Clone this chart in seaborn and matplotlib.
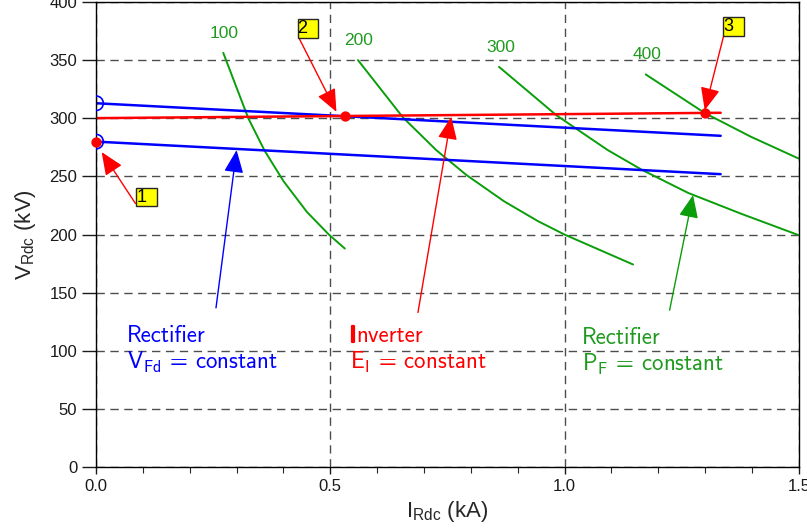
import matplotlib
matplotlib.use("Agg")
import numpy as np
import pandas as pd
import seaborn as sns
import matplotlib.pyplot as plt
import matplotlib.patheffects as pe
from matplotlib.ticker import MultipleLocator

# ---- data -------------------------------------------------------------
# rectifier characteristics, V_Fd = constant (kA, kV)
I_fd = [0.0, 1.333]
V_fd_high = [313, 285]
V_fd_low = [280, 252]

# inverter characteristic, E_I = constant
I_inv = [0.0, 1.333]
V_inv = [300.2, 304.8]

# rectifier constant-power curves (MW)
P_labels = ["100", "200", "300", "400"]
I_p100 = [0.2715, 0.325, 0.360, 0.400, 0.450, 0.497, 0.531]
V_p100 = [356.4, 300.0, 272.0, 246.0, 219.5, 200.0, 188.0]
I_p200 = [0.559, 0.655, 0.726, 0.790, 0.871, 0.943, 1.000, 1.146]
V_p200 = [350.1, 300.8, 272.7, 251.4, 228.6, 211.6, 200.0, 174.3]
I_p300 = [0.860, 0.982, 1.092, 1.165, 1.264, 1.377, 1.499]
V_p300 = [344.3, 302.8, 272.7, 255.7, 235.8, 217.9, 199.6]
I_p400 = [1.173, 1.299, 1.398, 1.499]
V_p400 = [337.8, 304.6, 284.1, 265.5]
P_label_I = [0.273, 0.561, 0.864, 1.175]
P_label_V = [373, 367, 361, 355]

# operating points and their numbered call-outs
op_I = [0.0, 0.531, 1.299]
op_V = [280, 302.0, 304.5]
op_names = ["1", "2", "3"]
op_tip_I = [0.012, 0.513, 1.299]
op_tip_V = [271, 305.6, 307]
op_box_I = [0.087, 0.432, 1.340]
op_box_V = [225, 370, 372]

# open markers on the voltage axis
axis_pt_I = [0.0, 0.0]
axis_pt_V = [313, 280]

x_ticks = [0.0, 0.5, 1.0, 1.5]
y_ticks = list(range(0, 401, 50))

# ---- style ------------------------------------------------------------
sns.set_style("white")
plt.rcParams["font.family"] = ["Liberation Sans Narrow", "Liberation Sans", "DejaVu Sans"]
plt.rcParams["mathtext.fontset"] = "custom"
plt.rcParams["mathtext.rm"] = "Liberation Sans"
plt.rcParams["mathtext.it"] = "Liberation Sans"

BLUE = "#0000ff"
RED = "#ff0000"
GREEN = "#0a9e0a"
GREEN_TXT = "#1f9a1f"

fig, ax = plt.subplots(figsize=(8.07, 5.29), dpi=100)
fig.subplots_adjust(left=0.119, right=0.990, bottom=0.117, top=0.996)

ax.set_xlim(0, 1.5)
ax.set_ylim(0, 400)
ax.set_xticks(x_ticks)
ax.set_xticklabels([f"{v:.1f}" for v in x_ticks])
ax.set_yticks(y_ticks)
ax.xaxis.set_minor_locator(MultipleLocator(0.1))
ax.grid(True, which="major", linestyle=(0, (6, 4)), color="0.3", linewidth=1.0)
ax.set_axisbelow(True)
for sp in ax.spines.values():
    sp.set_color("black")
    sp.set_linewidth(1.0)
ax.tick_params(axis="y", direction="out", length=10, width=1, left=True,
               labelsize=12, colors="0.1")
ax.tick_params(axis="x", which="major", direction="out", length=5, width=1,
               bottom=True, labelsize=12, colors="0.1")
ax.tick_params(axis="x", which="minor", direction="out", length=4, width=0.8,
               bottom=True)

ax.set_xlabel(r"I$_{\mathrm{Rdc}}$ (kA)", fontsize=16, labelpad=4)
ax.set_ylabel(r"V$_{\mathrm{Rdc}}$ (kV)", fontsize=16, labelpad=8)

# ---- curves -----------------------------------------------------------
for I, V in [(I_p100, V_p100), (I_p200, V_p200), (I_p300, V_p300), (I_p400, V_p400)]:
    sns.lineplot(x=I, y=V, ax=ax, color=GREEN, linewidth=1.4, sort=False,
                 estimator=None)
for lab, xi, yi in zip(P_labels, P_label_I, P_label_V):
    ax.text(xi, yi, lab, color=GREEN_TXT, fontsize=12.5, ha="center", va="center",
            family=["Liberation Sans", "DejaVu Sans"])

sns.lineplot(x=I_fd, y=V_fd_high, ax=ax, color=BLUE, linewidth=1.8, estimator=None)
sns.lineplot(x=I_fd, y=V_fd_low, ax=ax, color=BLUE, linewidth=1.8, estimator=None)
sns.lineplot(x=I_inv, y=V_inv, ax=ax, color=RED, linewidth=1.8, estimator=None)

# open circles sit on the axis and are cut by it; the red dots are not
sns.scatterplot(x=axis_pt_I, y=axis_pt_V, ax=ax, s=110, facecolor="none",
                edgecolor=BLUE, linewidth=1.2, zorder=5)
n_before = len(ax.collections)
sns.scatterplot(x=op_I, y=op_V, ax=ax, s=55, color=RED, edgecolor=RED,
                linewidth=0, zorder=6)
for coll in ax.collections[n_before:]:
    coll.set_clip_on(False)

# ---- numbered call-outs -----------------------------------------------
for name, tx, ty, bx, by in zip(op_names, op_tip_I, op_tip_V, op_box_I, op_box_V):
    ax.annotate(name + "\u2002", xy=(tx, ty), xytext=(bx, by), textcoords="data",
                fontsize=13, ha="left", va="bottom", color="black",
                family=["Liberation Sans", "DejaVu Sans"],
                bbox=dict(boxstyle="square,pad=0.05", fc="#ffff00", ec="0.15", lw=1),
                arrowprops=dict(arrowstyle="-|>,head_length=0.7,head_width=0.3",
                                mutation_scale=20, color=RED, lw=1, relpos=(0, 0),
                                shrinkA=0, shrinkB=0),
                zorder=7)

# ---- descriptive labels -----------------------------------------------
lab_font = dict(fontsize=16.5, family="cmss10", math_fontfamily="cm",
                ha="left", va="center")
ax.text(0.066, 112.7, "Rectifier", color=BLUE, **lab_font)
ax.text(0.066, 90.3, r"$\mathsf{V_{Fd}}$ = constant", color=BLUE, **lab_font)
# heavy initial "I", then the rest of the word placed right after it
t_I = ax.text(0.541, 112.7, "I", color=RED,
              path_effects=[pe.withStroke(linewidth=1.6, foreground=RED)], **lab_font)
ax.annotate("nverter", xy=(1.0, 0.5), xycoords=t_I, color=RED, **lab_font)
ax.text(0.541, 90.3, r"$\mathsf{E_{I}}$ = constant", color=RED, **lab_font)
ax.text(1.036, 111.0, "Rectifier", color=GREEN_TXT, **lab_font)
ax.text(1.036, 88.6, r"$\mathsf{P_{F}}$ = constant", color=GREEN_TXT, **lab_font)

label_arrow = "-|>,head_length=0.7,head_width=0.3"
for (x0, y0), (x1, y1), c in [((0.256, 137), (0.300, 272.7), BLUE),
                              ((0.687, 133), (0.758, 301.3), RED),
                              ((1.224, 135), (1.274, 234), GREEN)]:
    ax.annotate("", xy=(x1, y1), xytext=(x0, y0),
                arrowprops=dict(arrowstyle=label_arrow, mutation_scale=20, color=c,
                                lw=1, shrinkA=0, shrinkB=0))

fig.savefig("out.png", dpi=100)
